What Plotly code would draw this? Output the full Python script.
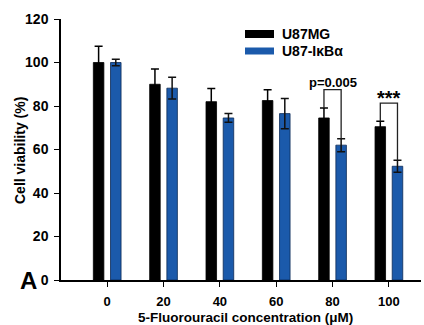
import plotly.graph_objects as go

categories = ["0", "20", "40", "60", "80", "100"]
u87mg = [100, 90, 82, 82.5, 74.5, 70.5]
u87mg_err = [7.5, 7, 6, 5, 4.6, 2.5]
u87ikba = [100, 88.2, 74.5, 76.5, 62, 52.3]
u87ikba_err = [1.5, 5, 2, 7, 3, 2.8]
y_ticks = [0, 20, 40, 60, 80, 100, 120]

FONT = "Liberation Sans, Arial, sans-serif"
BLUE = "#1b5aab"
BW = 0.187
GAP = 0.059
xs = list(range(len(categories)))

fig = go.Figure()
fig.add_trace(go.Bar(
    x=xs, y=u87mg, name="U87MG", marker=dict(color="black", line=dict(color="black", width=0.8)),
    width=BW, offset=-GAP - BW, showlegend=False,
    error_y=dict(type="data", array=u87mg_err, visible=True, color="black", thickness=1.5, width=4),
))
fig.add_trace(go.Bar(
    x=xs, y=u87ikba, name="U87-IκBα", marker=dict(color=BLUE, line=dict(color="#0b2a55", width=0.8)),
    width=BW, offset=GAP, showlegend=False,
    error_y=dict(type="data", array=u87ikba_err, visible=True, color="#111", thickness=1.5, width=4),
))

# significance brackets
lc = GAP + BW / 2
sig = [(4, 87.5, "p=0.005", 90.8, 13), (5, 81.3, "***", 83.6, 20)]
for i, ytop, txt, ty, fs in sig:
    x0 = i - lc
    x1 = i + lc
    y0 = u87mg[i] + u87mg_err[i]
    y1 = u87ikba[i] + u87ikba_err[i]
    fig.add_shape(type="path", xref="x", yref="y",
                  path=f"M {x0},{y0} L {x0},{ytop} L {x1},{ytop} L {x1},{y1}",
                  line=dict(color="#222", width=1.3))
    fig.add_annotation(x=i, y=ty, text=txt, showarrow=False, xref="x", yref="y",
                       font=dict(family=FONT, size=fs, color="black", weight="bold"),
                       yanchor="middle")

# legend (manual)
W, H = 424, 325
ml, mr, mt, mb = 61, 3, 19, 45
def px(xp):
    return (xp - ml) / (W - ml - mr)
def py(yp):
    return 1 - (yp - mt) / (H - mt - mb)

leg = [("U87MG", "black", 30, 38), ("U87-IκBα", BLUE, 47.5, 54.5)]
for name, col, t, b in leg:
    fig.add_shape(type="rect", xref="paper", yref="paper",
                  x0=px(245), x1=px(274), y0=py(b), y1=py(t),
                  fillcolor=col, line=dict(width=0))
    fig.add_annotation(xref="paper", yref="paper", x=px(280), y=py((t + b) / 2),
                       text=name, showarrow=False, xanchor="left", yanchor="middle",
                       font=dict(family=FONT, size=14, color="black", weight="bold"))

# panel letter
fig.add_annotation(xref="paper", yref="paper", x=px(28), y=py(280), text="A",
                   showarrow=False, xanchor="center", yanchor="middle",
                   font=dict(family=FONT, size=24, color="black", weight="bold"))
# y title
fig.add_annotation(xref="paper", yref="paper", x=px(20), y=py(151), text="Cell viability (%)",
                   showarrow=False, textangle=-90, xanchor="center", yanchor="middle",
                   font=dict(family=FONT, size=14, color="black", weight="bold"))
# x title
fig.add_annotation(xref="paper", yref="paper", x=px(245), y=py(317.5),
                   text="5-Fluorouracil concentration (μM)",
                   showarrow=False, xanchor="center", yanchor="middle",
                   font=dict(family=FONT, size=13.5, color="black", weight="bold"))

fig.update_layout(
    width=W, height=H, margin=dict(l=ml, r=mr, t=mt, b=mb),
    plot_bgcolor="white", paper_bgcolor="white",
    font=dict(family=FONT, size=14, color="black", weight="bold"),
    xaxis=dict(range=[-0.82, 5.57], tickmode="array", tickvals=xs, ticktext=categories,
               showline=True, linecolor="black", linewidth=1.5, ticks="outside",
               ticklen=5, tickwidth=1.3, tickcolor="black", showgrid=False, zeroline=False,
               tickfont=dict(family=FONT, size=13, weight="bold"), ticklabelstandoff=4),
    yaxis=dict(range=[0, 120], tickmode="array", tickvals=y_ticks,
               showline=True, linecolor="black", linewidth=1.5, ticks="outside",
               ticklen=5, tickwidth=1.3, tickcolor="black", showgrid=False, zeroline=False,
               tickfont=dict(family=FONT, size=14, weight="bold"), ticklabelstandoff=3),
)

fig.write_html("out.html", config={"displayModeBar": False},
               post_script="document.body.style.margin='0';document.body.style.overflow='hidden';")
